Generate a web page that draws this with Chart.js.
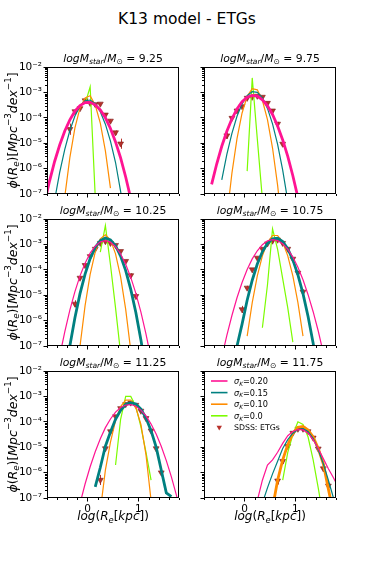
<!DOCTYPE html>
<html>
<head>
<meta charset="utf-8">
<title>K13 model - ETGs</title>
<script src="https://cdn.jsdelivr.net/npm/chart.js@4.4.1/dist/chart.umd.min.js"></script>
<style>
  html, body { margin: 0; padding: 0; background: #fff; }
  #fig { position: relative; width: 374px; height: 561px; overflow: hidden; background: #fff; }
  #fig canvas { position: absolute; }
  #suptitle {
    position: absolute; left: 0; top: 10px; width: 374px;
    text-align: center; font: 15.5px "DejaVu Sans"; line-height: 18px; color: #000;
  }
</style>
</head>
<body>
<div id="fig">
  <div id="suptitle">K13 model - ETGs</div>
  <canvas id="p1" width="187" height="157" style="left:0px;top:47px"></canvas>
  <canvas id="p2" width="187" height="157" style="left:157px;top:47px"></canvas>
  <canvas id="p3" width="187" height="157" style="left:0px;top:199px"></canvas>
  <canvas id="p4" width="187" height="157" style="left:157px;top:199px"></canvas>
  <canvas id="p5" width="187" height="182" style="left:0px;top:351px"></canvas>
  <canvas id="p6" width="187" height="182" style="left:157px;top:351px"></canvas>
</div>
<script>
// ─── Data (log10 of phi, per 0.1 dex bin of log Re) ──────────────────────
const n = null;

const binCenters = [-0.85, -0.75, -0.65, -0.55, -0.45, -0.35, -0.25, -0.15, -0.05, 0.05,
                    0.15, 0.25, 0.35, 0.45, 0.55, 0.65, 0.75, 0.85, 0.95, 1.05,
                    1.15, 1.25, 1.35, 1.45, 1.55, 1.65, 1.75, 1.85];

const massLabels  = ["9.25", "9.75", "10.25", "10.75", "11.25", "11.75"];
const sigmaLabels = ["0.20", "0.15", "0.10", "0.0"];
const obsLabel    = "SDSS: ETGs";
const lineColors  = ["#ff1493", "#008080", "#ff8c00", "#7cfc00"];
const thickCurve  = [0, 0, 1, 1, 1, 2];   // which sigma curve is drawn heavy in each panel

const yTickExps = [-7, -6, -5, -4, -3, -2];
const yMinorMul = [2, 3, 4, 5, 6, 7, 8, 9];
const xTickVals = [-0.8, -0.6, -0.4, -0.2, 0, 0.2, 0.4, 0.6, 0.8, 1, 1.2, 1.4, 1.6, 1.8];
const xMajor    = [0, 1];

// logM = 9.25
const p1_s20 = [-7.36, -6.49, -5.72, -5.07, -4.52, -4.08, -3.74, -3.52, -3.40, -3.39, -3.49, -3.69, -4.00, -4.42, -4.95, -5.58, -6.33, -7.18, n, n, n, n, n, n, n, n, n, n];
const p1_s15 = [n, -8.50, -7.24, -6.15, -5.24, -4.50, -3.93, -3.54, -3.33, -3.30, -3.44, -3.76, -4.25, -4.92, -5.76, -6.90, -8.00, n, n, n, n, n, n, n, n, n, n, n];
const p1_s10 = [n, n, n, -9.00, -7.11, -5.57, -4.40, -3.61, -3.22, -3.13, -3.50, -4.21, -5.30, -6.77, n, n, n, n, n, n, n, n, n, n, n, n, n, n];
const p1_s00 = [n, n, n, n, n, n, n, n, -3.45, -2.78, -7.10, n, n, n, n, n, n, n, n, n, n, n, n, n, n, n, n, n];
const p1_obsX   = [-0.35, -0.25, -0.15, -0.05, 0.05, 0.15, 0.25, 0.35, 0.45, 0.55, 0.65];
const p1_obsY   = [-4.45, -3.75, -3.63, -3.32, -3.42, -3.47, -3.45, -3.88, -4.12, -4.58, -5.02];
const p1_obsErr = [0.22, 0.06, 0.05, 0.04, 0.04, 0.04, 0.04, 0.05, 0.06, 0.08, 0.20];

// logM = 9.75
const p2_s20 = [n, n, -6.62, -5.82, -5.12, -4.53, -4.04, -3.65, -3.37, -3.19, -3.12, -3.15, -3.29, -3.53, -3.87, -4.32, -4.87, -5.52, -6.28, -7.14, n, n, n, n, n, n, n, n];
const p2_s15 = [n, n, n, n, -6.44, -5.44, -4.61, -3.94, -3.45, -3.13, -2.97, -3.00, -3.21, -3.63, -4.24, -5.05, -6.06, -7.27, n, n, n, n, n, n, n, n, n, n];
const p2_s10 = [n, n, n, n, n, -7.90, -6.18, -4.82, -3.81, -3.15, -2.85, -2.90, -3.31, -4.07, -5.19, -6.66, -8.50, n, n, n, n, n, n, n, n, n, n, n];
const p2_s00 = [n, n, n, n, n, n, n, n, n, -6.10, -2.43, -4.83, -7.20, n, n, n, n, n, n, n, n, n, n, n, n, n, n, n];
const p2_obsX   = [-0.35, -0.25, -0.15, -0.05, 0.05, 0.15, 0.25, 0.35, 0.45, 0.55, 0.65, 0.75];
const p2_obsY   = [-4.70, -4.01, -3.72, -3.55, -3.22, -3.18, -3.14, -3.18, -3.42, -3.72, -4.24, -5.03];
const p2_obsErr = [0.12, 0.07, 0.05, 0.04, 0.04, 0.04, 0.04, 0.04, 0.05, 0.06, 0.08, 0.12];

// logM = 10.25
const p3_s20 = [n, n, n, -7.40, -6.44, -5.59, -4.86, -4.24, -3.74, -3.34, -3.07, -2.90, -2.85, -2.91, -3.09, -3.38, -3.78, -4.30, -4.93, -5.67, -6.53, -7.50, n, n, n, n, n, n];
const p3_s15 = [n, n, n, n, -8.28, -7.00, -5.89, -4.94, -4.17, -3.56, -3.12, -2.85, -2.75, -2.82, -3.05, -3.46, -4.03, -4.77, -5.68, -6.76, -8.00, n, n, n, n, n, n, n];
const p3_s10 = [n, n, n, n, n, n, -8.90, -7.01, -5.41, -4.18, -3.30, -2.78, -2.62, -2.82, -3.37, -4.28, -5.56, -7.18, -9.20, n, n, n, n, n, n, n, n, n];
const p3_s00 = [n, n, n, n, n, n, n, n, n, n, n, -3.30, -2.26, -3.80, -5.50, -7.30, n, n, n, n, n, n, n, n, n, n, n, n];
const p3_obsX   = [-0.25, -0.15, -0.05, 0.05, 0.15, 0.25, 0.35, 0.45, 0.55, 0.65, 0.75, 0.85, 0.95];
const p3_obsY   = [-5.34, -4.32, -3.82, -3.47, -3.18, -2.95, -2.88, -2.95, -3.03, -3.27, -3.66, -4.22, -5.04];
const p3_obsErr = [0.14, 0.08, 0.05, 0.04, 0.03, 0.03, 0.03, 0.03, 0.03, 0.04, 0.05, 0.08, 0.12];

// logM = 10.75
const p4_s20 = [n, n, n, n, -7.45, -6.58, -5.80, -5.10, -4.50, -3.99, -3.57, -3.25, -3.01, -2.86, -2.81, -2.85, -2.97, -3.19, -3.50, -3.90, -4.39, -4.98, -5.65, -6.41, -7.27, n, n, n];
const p4_s15 = [n, n, n, n, n, n, n, -7.00, -6.14, -5.20, -4.41, -3.77, -3.29, -2.96, -2.78, -2.76, -2.89, -3.17, -3.61, -4.20, -4.94, -5.84, -6.89, -8.09, n, n, n, n];
const p4_s10 = [n, n, n, n, n, n, n, n, n, -6.61, -5.29, -4.24, -3.45, -2.92, -2.65, -2.65, -2.92, -3.45, -4.24, -5.29, -6.61, n, n, n, n, n, n, n];
const p4_s00 = [n, n, n, n, n, n, n, n, n, n, n, n, -6.28, -4.60, -2.39, -3.20, -4.35, -5.50, -6.85, n, n, n, n, n, n, n, n, n];
const p4_obsX   = [-0.05, 0.05, 0.15, 0.25, 0.35, 0.45, 0.55, 0.65, 0.75, 0.85, 0.95, 1.05, 1.15];
const p4_obsY   = [-5.56, -4.71, -3.99, -3.53, -3.18, -2.97, -2.86, -2.82, -2.95, -3.18, -3.57, -4.12, -4.87];
const p4_obsErr = [0.14, 0.08, 0.05, 0.04, 0.03, 0.03, 0.03, 0.03, 0.03, 0.04, 0.05, 0.07, 0.10];

// logM = 11.25
const p5_s20 = [n, n, n, n, n, n, n, -7.22, -6.45, -5.77, -5.18, -4.67, -4.23, -3.89, -3.62, -3.44, -3.34, -3.32, -3.39, -3.54, -3.77, -4.09, -4.48, -4.96, -5.53, -6.17, -6.90, -7.70];
const p5_s15 = [n, n, n, n, n, n, n, n, n, n, -6.56, -5.80, -4.96, -4.40, -3.90, -3.55, -3.32, -3.25, -3.30, -3.50, -3.85, -4.35, -5.00, -5.90, -6.80, -6.95, n, n];
const p5_s10 = [n, n, n, n, n, n, n, n, n, n, n, -7.50, -5.90, -4.80, -3.95, -3.40, -3.15, -3.15, -3.45, -4.10, -5.30, -7.10, n, n, n, n, n, n];
const p5_s00 = [n, n, n, n, n, n, n, n, n, n, n, n, n, n, -5.70, -3.90, -3.00, -3.00, -3.40, -4.20, -5.20, -6.30, n, n, n, n, n, n];
const p5_obsX   = [0.25, 0.35, 0.45, 0.55, 0.65, 0.75, 0.85, 0.95, 1.05, 1.15, 1.25, 1.35, 1.45];
const p5_obsY   = [-6.29, -5.05, -4.38, -3.79, -3.47, -3.31, -3.25, -3.34, -3.57, -3.86, -4.35, -5.05, -6.00];
const p5_obsErr = [0.20, 0.10, 0.06, 0.04, 0.03, 0.03, 0.03, 0.03, 0.04, 0.05, 0.07, 0.10, 0.15];

// logM = 11.75
const p6_s20 = [n, n, n, n, n, n, n, n, n, n, n, -7.10, -6.30, -5.70, -5.50, -5.20, -4.85, -4.55, -4.38, -4.30, -4.32, -4.45, -4.70, -5.05, -5.45, -5.85, -6.20, -6.60];
const p6_s15 = [n, n, n, n, n, n, n, n, n, n, n, n, -7.20, -6.60, -6.05, -5.55, -5.05, -4.70, -4.45, -4.30, -4.27, -4.38, -4.65, -5.10, -5.65, -6.30, -7.00, n];
const p6_s10 = [n, n, n, n, n, n, n, n, n, n, n, n, n, n, -7.40, -6.30, -5.50, -4.90, -4.45, -4.22, -4.18, -4.32, -4.60, -5.05, -5.65, -6.65, -7.60, n];
const p6_s00 = [n, n, n, n, n, n, n, n, n, n, n, n, n, n, n, n, -6.30, -5.20, -4.50, -4.00, -4.10, -4.60, -5.50, -6.60, -7.80, n, n, n];
const p6_obsX   = [0.65, 0.75, 0.85, 0.95, 1.05, 1.15, 1.25, 1.35, 1.45, 1.55, 1.65];
const p6_obsY   = [-6.32, -5.55, -4.96, -4.44, -4.28, -4.28, -4.38, -4.63, -5.06, -5.84, -6.52];
const p6_obsErr = [0.15, 0.10, 0.06, 0.05, 0.04, 0.04, 0.05, 0.06, 0.08, 0.12, 0.18];

const panelCurves = [
  [p1_s20, p1_s15, p1_s10, p1_s00],
  [p2_s20, p2_s15, p2_s10, p2_s00],
  [p3_s20, p3_s15, p3_s10, p3_s00],
  [p4_s20, p4_s15, p4_s10, p4_s00],
  [p5_s20, p5_s15, p5_s10, p5_s00],
  [p6_s20, p6_s15, p6_s10, p6_s00],
];
const panelObs = [
  [p1_obsX, p1_obsY, p1_obsErr],
  [p2_obsX, p2_obsY, p2_obsErr],
  [p3_obsX, p3_obsY, p3_obsErr],
  [p4_obsX, p4_obsY, p4_obsErr],
  [p5_obsX, p5_obsY, p5_obsErr],
  [p6_obsX, p6_obsY, p6_obsErr],
];

// ─── Styling ──────────────────────────────────────────────────────────────
const FONT     = '"DejaVu Sans"';
const OBS_FILL = "#b8312b";
const OBS_EDGE = "#7d1d19";
const SUP      = { "-": "\u207b", "0": "\u2070", "1": "\u00b9", "2": "\u00b2", "3": "\u00b3",
                   "4": "\u2074", "5": "\u2075", "6": "\u2076", "7": "\u2077", "8": "\u2078", "9": "\u2079" };

function supText(s) {
  return String(s).split("").map(c => SUP[c] || c).join("");
}

// ─── Mathtext-ish rich text: [text, italic, "sub"|"sup"] ──────────────────
function drawRich(ctx, segs, x, y, size, align) {
  const parts = segs.map(([t, it, pos]) => {
    const s = pos ? size * 0.7 : size;
    const f = (it ? "italic " : "") + s + "px " + FONT;
    ctx.font = f;
    const dy = pos === "sub" ? size * 0.22 : pos === "sup" ? -size * 0.42 : 0;
    return { t, f, dy, w: ctx.measureText(t).width };
  });
  const total = parts.reduce((a, p) => a + p.w, 0);
  let cx = align === "center" ? x - total / 2 : x;
  ctx.textAlign = "left";
  ctx.textBaseline = "alphabetic";
  ctx.fillStyle = "#000";
  parts.forEach(p => {
    ctx.font = p.f;
    ctx.fillText(p.t, cx, y + p.dy);
    cx += p.w;
  });
}

const Y_TITLE = [["\u03d5", 1], ["(", 0], ["R", 1], ["e", 1, "sub"], [")", 0], ["[", 0], ["Mpc", 1],
                 ["\u22123", 0, "sup"], ["dex", 1], ["\u22121", 0, "sup"], ["]", 0]];
const X_TITLE = [["log", 1], ["(", 0], ["R", 1], ["e", 1, "sub"], ["[", 0], ["kpc", 1], ["]", 0], [")", 0]];

function panelTitle(mass) {
  return [["log", 1], ["M", 1], ["star", 1, "sub"], ["/", 0], ["M", 1], ["\u2299", 0, "sub"], [" = ", 0], [mass, 0]];
}

// ─── Plugins ──────────────────────────────────────────────────────────────
const errorBars = {
  id: "errorBars",
  beforeDatasetDraw(chart, args) {
    const ds = chart.data.datasets[args.index];
    if (!ds.errLog) return;
    const ctx = chart.ctx, xs = chart.scales.x, ys = chart.scales.y;
    ctx.save();
    ctx.strokeStyle = OBS_FILL;
    ctx.lineWidth = 1;
    ds.obsLog.forEach((v, j) => {
      const px = Math.round(xs.getPixelForValue(ds.data[j].x)) + 0.5;
      ctx.beginPath();
      ctx.moveTo(px, ys.getPixelForValue(Math.pow(10, v - ds.errLog[j])));
      ctx.lineTo(px, ys.getPixelForValue(Math.pow(10, v + ds.errLog[j])));
      ctx.stroke();
    });
    ctx.restore();
  },
};

const panelDecor = {
  id: "panelDecor",
  afterDraw(chart, args, opts) {
    const ctx = chart.ctx, a = chart.chartArea;
    const xs = chart.scales.x, ys = chart.scales.y;
    ctx.save();

    // spines
    ctx.strokeStyle = "#000";
    ctx.lineWidth = 1;
    ctx.strokeRect(Math.round(a.left) + 0.5, Math.round(a.top) + 0.5,
                   Math.round(a.right - a.left) - 1, Math.round(a.bottom - a.top) - 1);

    // minor ticks (majors come from Chart.js)
    ctx.beginPath();
    ys.ticks.forEach(t => {
      if (t.major) return;
      const py = Math.round(ys.getPixelForValue(t.value)) + 0.5;
      ctx.moveTo(a.left - 2, py); ctx.lineTo(a.left, py);
    });
    xs.ticks.forEach(t => {
      if (t.major) return;
      const px = Math.round(xs.getPixelForValue(t.value)) + 0.5;
      ctx.moveTo(px, a.bottom); ctx.lineTo(px, a.bottom + 2);
    });
    ctx.stroke();

    const cx = (a.left + a.right) / 2;
    drawRich(ctx, panelTitle(opts.mass), cx, a.top - 5, 10.8, "center");

    if (opts.yTitle) {
      ctx.save();
      ctx.translate(16.5, (a.top + a.bottom) / 2);
      ctx.rotate(-Math.PI / 2);
      drawRich(ctx, Y_TITLE, 0, 0, 12.5, "center");
      ctx.restore();
    }
    if (opts.xTitle) {
      drawRich(ctx, X_TITLE, cx, a.bottom + 22, 12, "center");
    }

    if (opts.legend) {
      const ds = chart.data.datasets;
      const x0 = a.left + 7, x1 = a.left + 23.5, tx = a.left + 30;
      ds.forEach((d, k) => {
        const y = a.top + 10 + k * 11.6;
        if (d.errLog) {
          ctx.beginPath();
          const r = 3.1, mx = (x0 + x1) / 2;
          ctx.moveTo(mx - r * 0.87, y - r * 0.5);
          ctx.lineTo(mx + r * 0.87, y - r * 0.5);
          ctx.lineTo(mx, y + r);
          ctx.closePath();
          ctx.fillStyle = OBS_FILL;
          ctx.fill();
          ctx.font = "7.8px " + FONT;
          ctx.fillStyle = "#000";
          ctx.textBaseline = "middle";
          ctx.fillText(d.label, tx, y + 0.5);
        } else {
          ctx.beginPath();
          ctx.strokeStyle = d.borderColor;
          ctx.lineWidth = 1.6;
          ctx.moveTo(x0, y); ctx.lineTo(x1, y);
          ctx.stroke();
          drawRich(ctx, [["\u03c3", 1], ["K", 1, "sub"], ["=" + d.label, 0]], tx, y + 3, 8.2, "left");
        }
      });
    }
    ctx.restore();
  },
};

// ─── Panels ───────────────────────────────────────────────────────────────
function buildPanel(i) {
  const col = i % 2, row = Math.floor(i / 2);
  const bottomRow = row === 2;
  const [obsX, obsY, obsErr] = panelObs[i];

  const datasets = panelCurves[i].map((arr, k) => ({
    label: sigmaLabels[k],
    data: binCenters.map((x, j) => ({ x: x, v: arr[j] }))
                    .filter(p => p.v !== null)
                    .map(p => ({ x: p.x, y: Math.pow(10, p.v) })),
    borderColor: lineColors[k],
    borderWidth: k === thickCurve[i] ? 2.8 : 1.2,
    pointRadius: 0,
    tension: 0,
    fill: false,
    clip: 0,
  }));

  datasets.push({
    label: obsLabel,
    data: obsX.map((x, j) => ({ x: x, y: Math.pow(10, obsY[j]) })),
    obsLog: obsY,
    errLog: obsErr,
    showLine: false,
    pointStyle: "triangle",
    rotation: 180,
    pointRadius: 3.4,
    pointBackgroundColor: OBS_FILL,
    pointBorderColor: OBS_EDGE,
    pointBorderWidth: 0.6,
    clip: 0,
  });

  const tickFont = { family: FONT, size: 10.5 };

  new Chart(document.getElementById("p" + (i + 1)), {
    type: "line",
    data: { datasets },
    plugins: [errorBars, panelDecor],
    options: {
      responsive: false,
      devicePixelRatio: 1,
      animation: false,
      events: [],
      layout: { padding: { left: 0, right: 8, top: 20, bottom: 0 } },
      plugins: {
        legend: { display: false },
        tooltip: { enabled: false },
        panelDecor: { mass: massLabels[i], yTitle: col === 0, xTitle: bottomRow, legend: i === 5 },
      },
      scales: {
        x: {
          type: "linear",
          min: -0.8,
          max: 1.8,
          afterBuildTicks: s => { s.ticks = xTickVals.map(v => ({ value: v, major: xMajor.includes(v) })); },
          afterFit: s => { s.height = bottomRow ? 35 : 10; },
          border: { display: false },
          grid: {
            drawOnChartArea: false,
            drawTicks: true,
            tickLength: 3.5,
            tickWidth: 1,
            tickColor: c => (c.tick && c.tick.major ? "#000" : "rgba(0,0,0,0)"),
          },
          ticks: {
            autoSkip: false,
            maxRotation: 0,
            padding: 1.5,
            color: "#000",
            font: tickFont,
            callback: v => (bottomRow && xMajor.includes(v) ? String(v) : ""),
          },
        },
        y: {
          type: "logarithmic",
          min: 1e-7,
          max: 1e-2,
          afterBuildTicks: s => {
            const t = [];
            yTickExps.forEach(e => {
              t.push({ value: Math.pow(10, e), major: true });
              if (e < -2) yMinorMul.forEach(m => t.push({ value: m * Math.pow(10, e), major: false }));
            });
            s.ticks = t;
          },
          afterFit: s => { s.width = 47; },
          border: { display: false },
          grid: {
            drawOnChartArea: false,
            drawTicks: true,
            tickLength: 3.5,
            tickWidth: 1,
            tickColor: c => (c.tick && c.tick.major ? "#000" : "rgba(0,0,0,0)"),
          },
          ticks: {
            autoSkip: false,
            padding: 1.5,
            color: "#000",
            font: tickFont,
            callback: (v, idx, ticks) => {
              if (col !== 0 || !ticks[idx].major) return "";
              return "10" + supText(Math.round(Math.log10(v)));
            },
          },
        },
      },
    },
  });
}

window.addEventListener("DOMContentLoaded", () => {
  for (let i = 0; i < 6; i++) buildPanel(i);
});
</script>
</body>
</html>
